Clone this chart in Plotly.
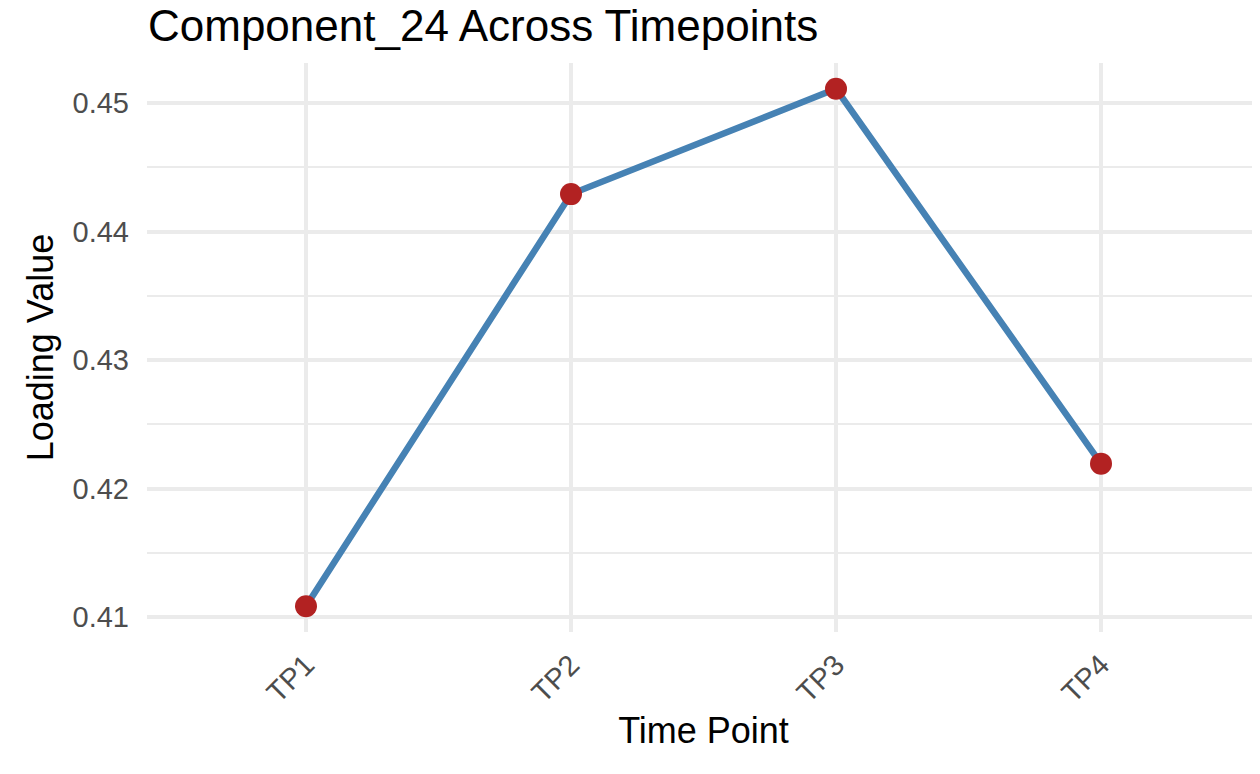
import plotly.graph_objects as go

time_points = ["TP1", "TP2", "TP3", "TP4"]
loading_values = [0.41085, 0.44291, 0.4511, 0.42194]
y_tick_values = [0.41, 0.42, 0.43, 0.44, 0.45]
y_tick_labels = ["0.41", "0.42", "0.43", "0.44", "0.45"]

FONT = "Liberation Sans, Arial, sans-serif"

# the page adds an 8px body margin, so the figure is made 8px smaller
OFF = 8
W, H = 1260 - OFF, 774 - OFF

fig = go.Figure()
fig.add_trace(go.Scatter(
    x=time_points, y=loading_values, mode="lines",
    line=dict(color="#4682B4", width=6.5), hoverinfo="skip", showlegend=False,
))
fig.add_trace(go.Scatter(
    x=time_points, y=loading_values, mode="markers",
    marker=dict(color="#B22222", size=22, line=dict(width=0)), showlegend=False,
))

fig.update_layout(
    width=W, height=H,
    paper_bgcolor="white", plot_bgcolor="white",
    margin=dict(l=147 - OFF, r=0, t=63 - OFF, b=H - (632 - OFF), autoexpand=False),
    font=dict(family=FONT),
    title=dict(
        text="Component_24 Across Timepoints",
        font=dict(size=44, color="black", family=FONT),
        x=(148 - OFF) / W, xref="container", xanchor="left",
        y=1 - 18 / H, yref="container", yanchor="middle",
        automargin=False,
    ),
    xaxis=dict(
        type="category", categoryorder="array", categoryarray=time_points,
        range=[-0.6, 3.6], automargin=False,
        showgrid=True, gridcolor="#EBEBEB", gridwidth=3.5,
        zeroline=False, showline=False, ticks="",
        tickangle=-45, ticklabelstandoff=9,
        tickfont=dict(size=29, color="#4D4D4D", family=FONT),
        title=dict(text="Time Point", font=dict(size=36, color="black", family=FONT), standoff=10),
    ),
    yaxis=dict(
        range=[0.40884, 0.45311], automargin=False,
        tickvals=y_tick_values, ticktext=y_tick_labels,
        showgrid=True, gridcolor="#EBEBEB", gridwidth=3.5,
        minor=dict(dtick=0.005, tick0=0.405, showgrid=True, gridcolor="#EBEBEB", gridwidth=1.8),
        zeroline=False, showline=False, ticks="",
        ticklabelstandoff=17,
        tickfont=dict(size=29, color="#4D4D4D", family=FONT),
        title=dict(text="Loading Value", font=dict(size=36, color="black", family=FONT), standoff=7),
    ),
)

fig.write_html("out.html")
